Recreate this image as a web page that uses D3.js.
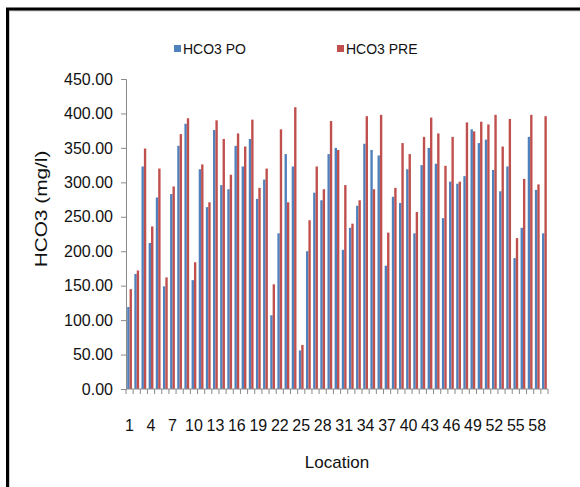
<!DOCTYPE html>
<html>
<head>
<meta charset="utf-8">
<script src="https://cdn.jsdelivr.net/npm/d3@7"></script>
<style>
  body { margin: 0; background: #fff; }
  svg text { font-family: "Liberation Sans Narrow", "Liberation Sans", Arial, sans-serif; fill: #111; }
</style>
</head>
<body>
<div id="chart"></div>
<script>
// Location numbers 1..59
const locations = [
  1, 2, 3, 4, 5, 6, 7, 8, 9, 10, 11, 12, 13, 14, 15, 16, 17, 18, 19, 20,
  21, 22, 23, 24, 25, 26, 27, 28, 29, 30, 31, 32, 33, 34, 35, 36, 37, 38, 39, 40,
  41, 42, 43, 44, 45, 46, 47, 48, 49, 50, 51, 52, 53, 54, 55, 56, 57, 58, 59
];

// HCO3 PO (post-monsoon)
const hco3Po = [
  119, 167, 323, 212, 278, 149, 283, 353, 385, 158,
  319, 264, 376, 296, 290, 353, 323, 363, 276, 304,
  107, 226, 341, 323, 56, 200, 285, 274, 341, 350,
  202, 234, 266, 356, 347, 339, 179, 279, 270, 319,
  226, 325, 350, 327, 248, 301, 298, 309, 377, 357,
  362, 318, 287, 323, 190, 234, 366, 289, 226
];

// HCO3 PRE (pre-monsoon)
const hco3Pre = [
  145, 172, 349, 236, 320, 162, 294, 370, 393, 184,
  326, 271, 390, 363, 311, 371, 352, 391, 292, 320,
  152, 377, 271, 409, 64, 245, 323, 290, 389, 347,
  296, 240, 274, 396, 290, 398, 227, 292, 357, 341,
  257, 366, 394, 371, 324, 366, 301, 387, 374, 388,
  384, 398, 352, 392, 219, 305, 398, 297, 396
];

const seriesNames = ["HCO3 PO", "HCO3 PRE"];
const seriesColors = ["#4F81BD", "#C0504D"];
const yTicks = [0, 50, 100, 150, 200, 250, 300, 350, 400, 450];

const W = 580, H = 487;
const plot = {left: 126, right: 548, top: 79, bottom: 389};

const svg = d3.select("#chart").append("svg")
    .attr("width", W)
    .attr("height", H);

// outer frame (cut off on the right and bottom like the picture)
svg.append("rect")
    .attr("x", 9).attr("y", 10.5)
    .attr("width", 620).attr("height", 520)
    .attr("fill", "none")
    .attr("stroke", "#ccc")
    .attr("stroke-width", 2);
svg.append("rect")
    .attr("x", 7.5).attr("y", 9)
    .attr("width", 620).attr("height", 520)
    .attr("fill", "none")
    .attr("stroke", "#000")
    .attr("stroke-width", 3);

const x = d3.scaleBand()
    .domain(locations)
    .range([plot.left, plot.right])
    .paddingInner(0)
    .paddingOuter(0);

const xSub = d3.scaleBand()
    .domain([0, 1])
    .range([0, x.bandwidth()])
    .paddingOuter(0.5)
    .paddingInner(0);

const y = d3.scaleLinear()
    .domain([0, 450])
    .range([plot.bottom, plot.top]);

// bars
const groups = svg.append("g").selectAll("g")
    .data(locations)
    .join("g")
    .attr("transform", d => `translate(${x(d)},0)`);

groups.selectAll("rect")
    .data((d, i) => [hco3Po[i], hco3Pre[i]])
    .join("rect")
    .attr("x", (d, j) => xSub(j))
    .attr("y", d => y(d))
    .attr("width", xSub.bandwidth())
    .attr("height", d => y(0) - y(d))
    .attr("fill", (d, j) => seriesColors[j]);

// y axis
const yAxis = svg.append("g")
    .attr("transform", `translate(${plot.left},0)`)
    .call(d3.axisLeft(y).tickValues(yTicks).tickFormat(d3.format(".2f")).tickSize(5).tickPadding(8));
yAxis.select(".domain").attr("stroke", "#8a8a8a");
yAxis.selectAll(".tick line").attr("stroke", "#8a8a8a");
yAxis.selectAll("text").attr("font-size", 16).attr("fill", "#111");

// x axis: ticks at category boundaries, labels every third location
const xAxis = svg.append("g")
    .attr("transform", `translate(0,${plot.bottom})`);
xAxis.append("line")
    .attr("x1", plot.left).attr("x2", plot.right)
    .attr("stroke", "#8a8a8a");
xAxis.selectAll(".xt")
    .data(locations.concat([null]))
    .join("line")
    .attr("class", "xt")
    .attr("x1", (d, i) => plot.left + i * x.step())
    .attr("x2", (d, i) => plot.left + i * x.step())
    .attr("y1", 0).attr("y2", 5)
    .attr("stroke", "#8a8a8a");
xAxis.selectAll(".xl")
    .data(locations.filter((d, i) => i % 3 === 0))
    .join("text")
    .attr("class", "xl")
    .attr("x", d => x(d) + x.bandwidth() / 2)
    .attr("y", 42)
    .attr("text-anchor", "middle")
    .attr("font-size", 16)
    .text(d => d);

// axis titles
svg.append("text")
    .attr("x", (plot.left + plot.right) / 2)
    .attr("y", 468)
    .attr("text-anchor", "middle")
    .attr("font-size", 17)
    .text("Location");

svg.append("text")
    .attr("transform", "translate(47,209) rotate(-90) scale(1.3,1)")
    .attr("text-anchor", "middle")
    .attr("font-size", 16)
    .text("HCO3 (mg/l)");

// legend
const legendX = [174, 337];
const legend = svg.append("g").selectAll("g")
    .data(seriesNames)
    .join("g")
    .attr("transform", (d, i) => `translate(${legendX[i]},49)`);
legend.append("rect")
    .attr("x", 0).attr("y", -4)
    .attr("width", 7).attr("height", 7)
    .attr("fill", (d, i) => seriesColors[i]);
legend.append("text")
    .attr("x", 9).attr("y", 5)
    .attr("font-size", 14)
    .text(d => d);
</script>
</body>
</html>
